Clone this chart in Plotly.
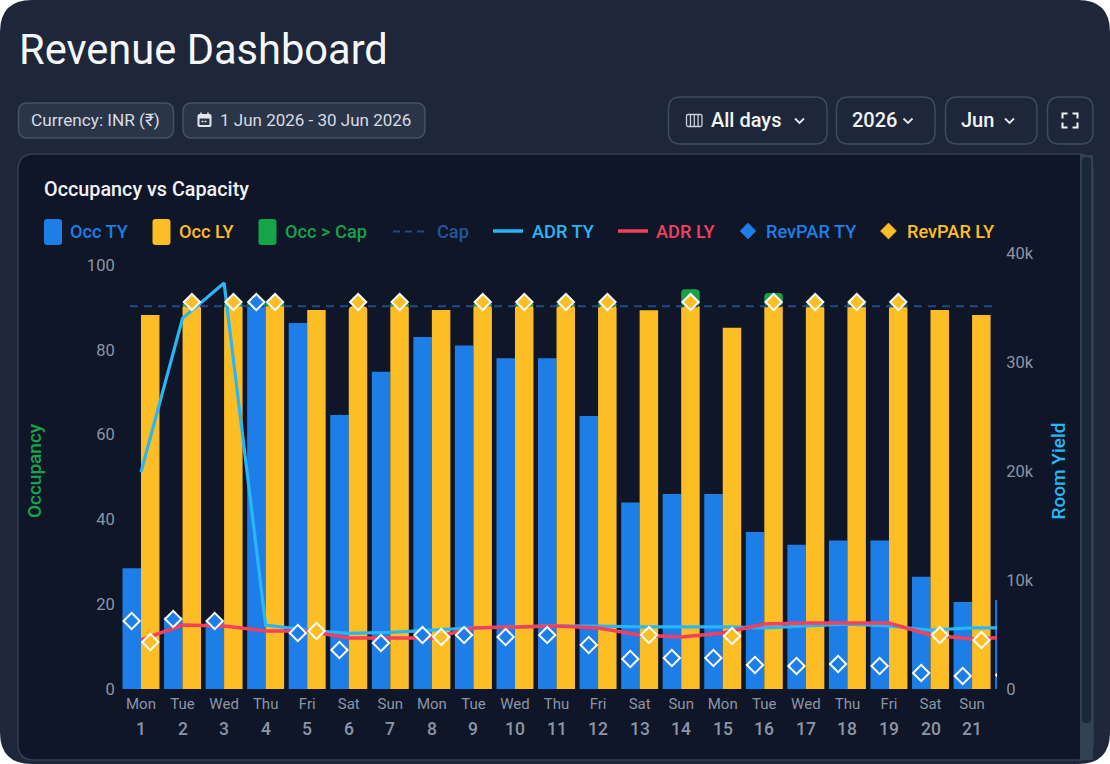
import numpy as np
import plotly.graph_objects as go

W, H = 1110, 764
FONT = "Roboto"

WEEKDAYS = ["Mon", "Tue", "Wed", "Thu", "Fri", "Sat", "Sun", "Mon", "Tue", "Wed", "Thu",
            "Fri", "Sat", "Sun", "Mon", "Tue", "Wed", "Thu", "Fri", "Sat", "Sun"]
DAYS = list(range(1, 23))
CAPACITY = 90.3

OCC_TY = [28.5, 17, 16, 91.3, 86.3, 64.6, 74.8, 83, 81, 78, 78, 64.4, 44, 46, 46, 37,
          34, 35, 35, 26.5, 20.5, 21]
OCC_LY = [88.2, 90.9, 90.9, 91.1, 89.4, 90.3, 91, 89.4, 90.9, 90.9, 90.8, 90.9, 89.3,
          94.3, 85.2, 93.4, 90.7, 91.1, 90.7, 89.4, 88.2]
ADR_TY = [19900, 34000, 37250, 5870, 5400, 5100, 5200, 5400, 5600, 5700, 5800, 5780,
          5700, 5700, 5700, 5600, 5780, 5960, 5780, 5400, 5600, 5600]
ADR_LY = [4500, 5870, 5780, 5320, 5320, 4680, 4680, 4680, 5600, 5690, 5780, 5600,
          4950, 4770, 5140, 5960, 6050, 6050, 6050, 4950, 4590, 4770]
REVPAR_TY = [6240, 6420, 6240, 35500, 5140, 3580, 4220, 4950, 4950, 4770, 4950, 4040,
             2750, 2840, 2840, 2200, 2110, 2290, 2110, 1470, 1190, 1280]
REVPAR_LY = [4310, 35500, 35500, 35500, 5320, 35500, 35500, 4770, 35500, 35500, 35500,
             35500, 4950, 35500, 4860, 35500, 35500, 35500, 35500, 4950, 4490]

BLUE = "#1e7ee8"
AMBER = "#fcbe24"
GREEN = "#16a34a"
CAP_BLUE = "#1e4a8c"
SKY = "#29b6f6"
RED = "#f43f5e"
PANEL = "#1d2739"
CARD = "#0e1628"
MUTED = "#8d95a5"


def px(x, y):
    return f"{x / W:.5f},{1 - y / H:.5f}"


def rounded(x0, y0, x1, y1, r):
    return (
        f"M {px(x0 + r, y0)} L {px(x1 - r, y0)} Q {px(x1, y0)} {px(x1, y0 + r)} "
        f"L {px(x1, y1 - r)} Q {px(x1, y1)} {px(x1 - r, y1)} "
        f"L {px(x0 + r, y1)} Q {px(x0, y1)} {px(x0, y1 - r)} "
        f"L {px(x0, y0 + r)} Q {px(x0, y0)} {px(x0 + r, y0)} Z"
    )


def polyline(points, close=False):
    body = " L ".join(px(x, y) for x, y in points)
    return f"M {body}" + (" Z" if close else "")


shapes = []


def box(x0, y0, x1, y1, r, fill="rgba(0,0,0,0)", line=None, width=1.5):
    shapes.append(dict(type="path", path=rounded(x0, y0, x1, y1, r), xref="paper", yref="paper",
                       fillcolor=fill, layer="below",
                       line=dict(color=line or "rgba(0,0,0,0)", width=width if line else 0)))


def stroke(points, color, width=2, close=False, fill="rgba(0,0,0,0)", dash=None):
    shapes.append(dict(type="path", path=polyline(points, close), xref="paper", yref="paper",
                       fillcolor=fill, layer="below",
                       line=dict(color=color, width=width, dash=dash)))


annotations = []


def label(x, y, text, size, color, weight=400, anchor="left"):
    annotations.append(dict(x=x / W, y=1 - y / H, xref="paper", yref="paper", text=text,
                            showarrow=False, xanchor=anchor, yanchor="middle",
                            font=dict(family=FONT, size=size, color=color, weight=weight),
                            borderpad=0, borderwidth=0))


# page panel, chart card and scrollbar
box(0, 0, W, H, 32, fill=PANEL)
box(18, 154, 1093, 760, 16, fill=CARD, line="#333f52", width=1.5)
shapes.append(dict(type="rect", x0=1080 / W, x1=1093 / W, y0=1 - 760 / H, y1=1 - 155 / H,
                   xref="paper", yref="paper", fillcolor="#334155", layer="below", line_width=0))
box(1082, 157, 1091, 723, 4, fill="#1c2738")

# header controls
box(18.5, 103, 173.5, 138, 9, fill="#2a3648", line="#465163")
label(31, 120.5, "Currency: INR (₹)", 17.2, "#d8dce3")
box(183, 103, 425, 138, 9, fill="#2a3648", line="#465163")
label(220, 120.5, "1 Jun 2026 - 30 Jun 2026", 17, "#d8dce3")
box(197.5, 114, 211.5, 127, 2, fill="#e3e6ea")
box(199.5, 118.5, 209.5, 125, 0.5, fill="#2a3648")
stroke([(201.5, 121.5), (207.5, 121.5)], "#e3e6ea", 1.5, dash="2px,1px")
stroke([(201, 112.5), (201, 115)], "#e3e6ea", 1.5)
stroke([(208, 112.5), (208, 115)], "#e3e6ea", 1.5)

for x0, x1 in [(668.5, 827), (836.5, 935), (945.5, 1037), (1047.5, 1093)]:
    box(x0, 97, x1, 144, 12, line="#3f4b5d", width=1.5)
label(711, 120.5, "All days", 20, "#f2f4f6", 500)
label(852, 120.5, "2026", 20, "#f2f4f6", 500)
label(961, 120.5, "Jun", 20, "#f2f4f6", 500)
box(686.5, 114.5, 702, 126.5, 1.5, line="#cbd1d9", width=1.3)
for xv in (690.5, 694.3, 698.1):
    stroke([(xv, 115), (xv, 126)], "#cbd1d9", 1.3)
for cx in (799.5, 908, 1009.5):
    stroke([(cx - 4.5, 118.5), (cx, 123), (cx + 4.5, 118.5)], "#e4e7eb", 1.8)
for sx, sy in [(-1, -1), (1, -1), (-1, 1), (1, 1)]:
    cx, cy = 1070 + sx * 7.5, 120.5 + sy * 7
    stroke([(cx, cy - sy * 5), (cx, cy), (cx - sx * 5, cy)], "#f2f4f6", 2)

label(19, 49, "Revenue Dashboard", 41.6, "#f6f7f9", 400)
label(44, 189, "Occupancy vs Capacity", 19.8, "#f1f3f5", 500)

# hand-placed legend row, every entry coloured like its series
for x0, color in [(44, BLUE), (152.5, AMBER), (258.5, GREEN)]:
    box(x0, 219, x0 + 18, 245, 3, fill=color)
stroke([(393, 231.5), (425, 231.5)], CAP_BLUE, 2, dash="7px,5px")
stroke([(493, 231), (523, 231)], SKY, 3.5)
stroke([(618, 231), (648, 231)], RED, 3.5)
for cx, color in [(748, BLUE), (888.5, AMBER)]:
    stroke([(cx - 8, 231), (cx, 223), (cx + 8, 231), (cx, 239)], color, 0.5, close=True, fill=color)
for x, text, color in [(70, "Occ TY", BLUE), (179, "Occ LY", AMBER), (285, "Occ &gt; Cap", GREEN),
                       (437, "Cap", "#24569f"), (532, "ADR TY", SKY), (656, "ADR LY", RED),
                       (766, "RevPAR TY", BLUE), (907, "RevPAR LY", AMBER)]:
    label(x, 231.5, text, 18.2, color, 500)

# day numbers sit on a second row beneath the weekday tick labels
for day in DAYS[:len(WEEKDAYS)]:
    annotations.append(dict(x=day, y=1 - 728.5 / H, xref="x", yref="paper", text=str(day),
                            showarrow=False, xanchor="center", yanchor="middle",
                            font=dict(family=FONT, size=17.5, color=MUTED, weight=500)))

days = np.array(DAYS)
ty = np.array(OCC_TY)
ly = np.array(OCC_LY)
ly_days = days[:len(ly)]
BAR_SHIFT = 0.225

fig = go.Figure()
fig.add_bar(x=days, y=np.maximum(ty - CAPACITY, 0), base=CAPACITY, offsetgroup="ty", name="Occ > Cap",
            marker=dict(color=GREEN, line_width=0), yaxis="y")
fig.add_bar(x=ly_days, y=np.maximum(ly - CAPACITY, 0), base=CAPACITY, offsetgroup="ly", name="Occ > Cap",
            marker=dict(color=GREEN, line_width=0), yaxis="y")
fig.add_bar(x=days, y=np.minimum(ty, CAPACITY), offsetgroup="ty", name="Occ TY",
            marker=dict(color=BLUE, line_width=0), yaxis="y")
fig.add_bar(x=ly_days, y=np.minimum(ly, CAPACITY), offsetgroup="ly", name="Occ LY",
            marker=dict(color=AMBER, line_width=0), yaxis="y")
fig.add_scatter(x=[0.735, 22], y=[CAPACITY, CAPACITY], mode="lines", name="Cap", yaxis="y",
                line=dict(color=CAP_BLUE, width=2, dash="8px,6px"))
fig.add_scatter(x=days, y=ADR_TY, mode="lines", name="ADR TY", yaxis="y2",
                line=dict(color=SKY, width=3.2))
fig.add_scatter(x=days, y=ADR_LY, mode="lines", name="ADR LY", yaxis="y2",
                line=dict(color=RED, width=3.5))
fig.add_scatter(x=days - BAR_SHIFT, y=REVPAR_TY, mode="markers", name="RevPAR TY", yaxis="y2",
                marker=dict(symbol="diamond", size=12.5, color=BLUE, line=dict(color="#ffffff", width=2)))
fig.add_scatter(x=ly_days + BAR_SHIFT, y=REVPAR_LY, mode="markers", name="RevPAR LY", yaxis="y2",
                marker=dict(symbol="diamond", size=12.5, color=AMBER, line=dict(color="#ffffff", width=2)))

tick_font = dict(family=FONT, size=16.5, color=MUTED)
fig.update_layout(
    width=W, height=H, autosize=False, margin=dict(l=0, r=0, t=0, b=0),
    paper_bgcolor="#ffffff", plot_bgcolor="rgba(0,0,0,0)",
    showlegend=False, barmode="group", bargap=0.11, bargroupgap=0, barcornerradius=4,
    font=dict(family=FONT),
    shapes=shapes, annotations=annotations,
    xaxis=dict(domain=[120 / W, 997 / W], range=[0.495, 21.6], tickmode="array",
               tickvals=DAYS[:len(WEEKDAYS)], ticktext=WEEKDAYS, showgrid=False, zeroline=False,
               showline=False, ticks="outside", ticklen=1, tickcolor="rgba(0,0,0,0)",
               tickfont=dict(family=FONT, size=15, color=MUTED), anchor="y"),
    yaxis=dict(domain=[1 - 689 / H, 1 - 253 / H], range=[0, 436 / 4.24], tickmode="array",
               tickvals=[0, 20, 40, 60, 80, 100], showgrid=False, zeroline=False, showline=False,
               ticks="outside", ticklen=1, tickcolor="rgba(0,0,0,0)", tickfont=tick_font,
               title=dict(text="Occupancy", standoff=40, font=dict(family=FONT, size=19, color=GREEN, weight=500)),
               automargin=False),
    yaxis2=dict(domain=[1 - 689 / H, 1 - 253 / H], range=[0, 40000], overlaying="y", side="right",
                anchor="x", tickmode="array", tickvals=[0, 10000, 20000, 30000, 40000],
                ticktext=["0", "10k", "20k", "30k", "40k"], showgrid=False, zeroline=False,
                showline=False, ticks="outside", ticklen=5, tickcolor="rgba(0,0,0,0)",
                tickfont=tick_font,
                title=dict(text="Room Yield", standoff=18, font=dict(family=FONT, size=19, color=SKY, weight=500)),
                automargin=False),
)

fig.write_html("out.html", config=dict(displayModeBar=False))
